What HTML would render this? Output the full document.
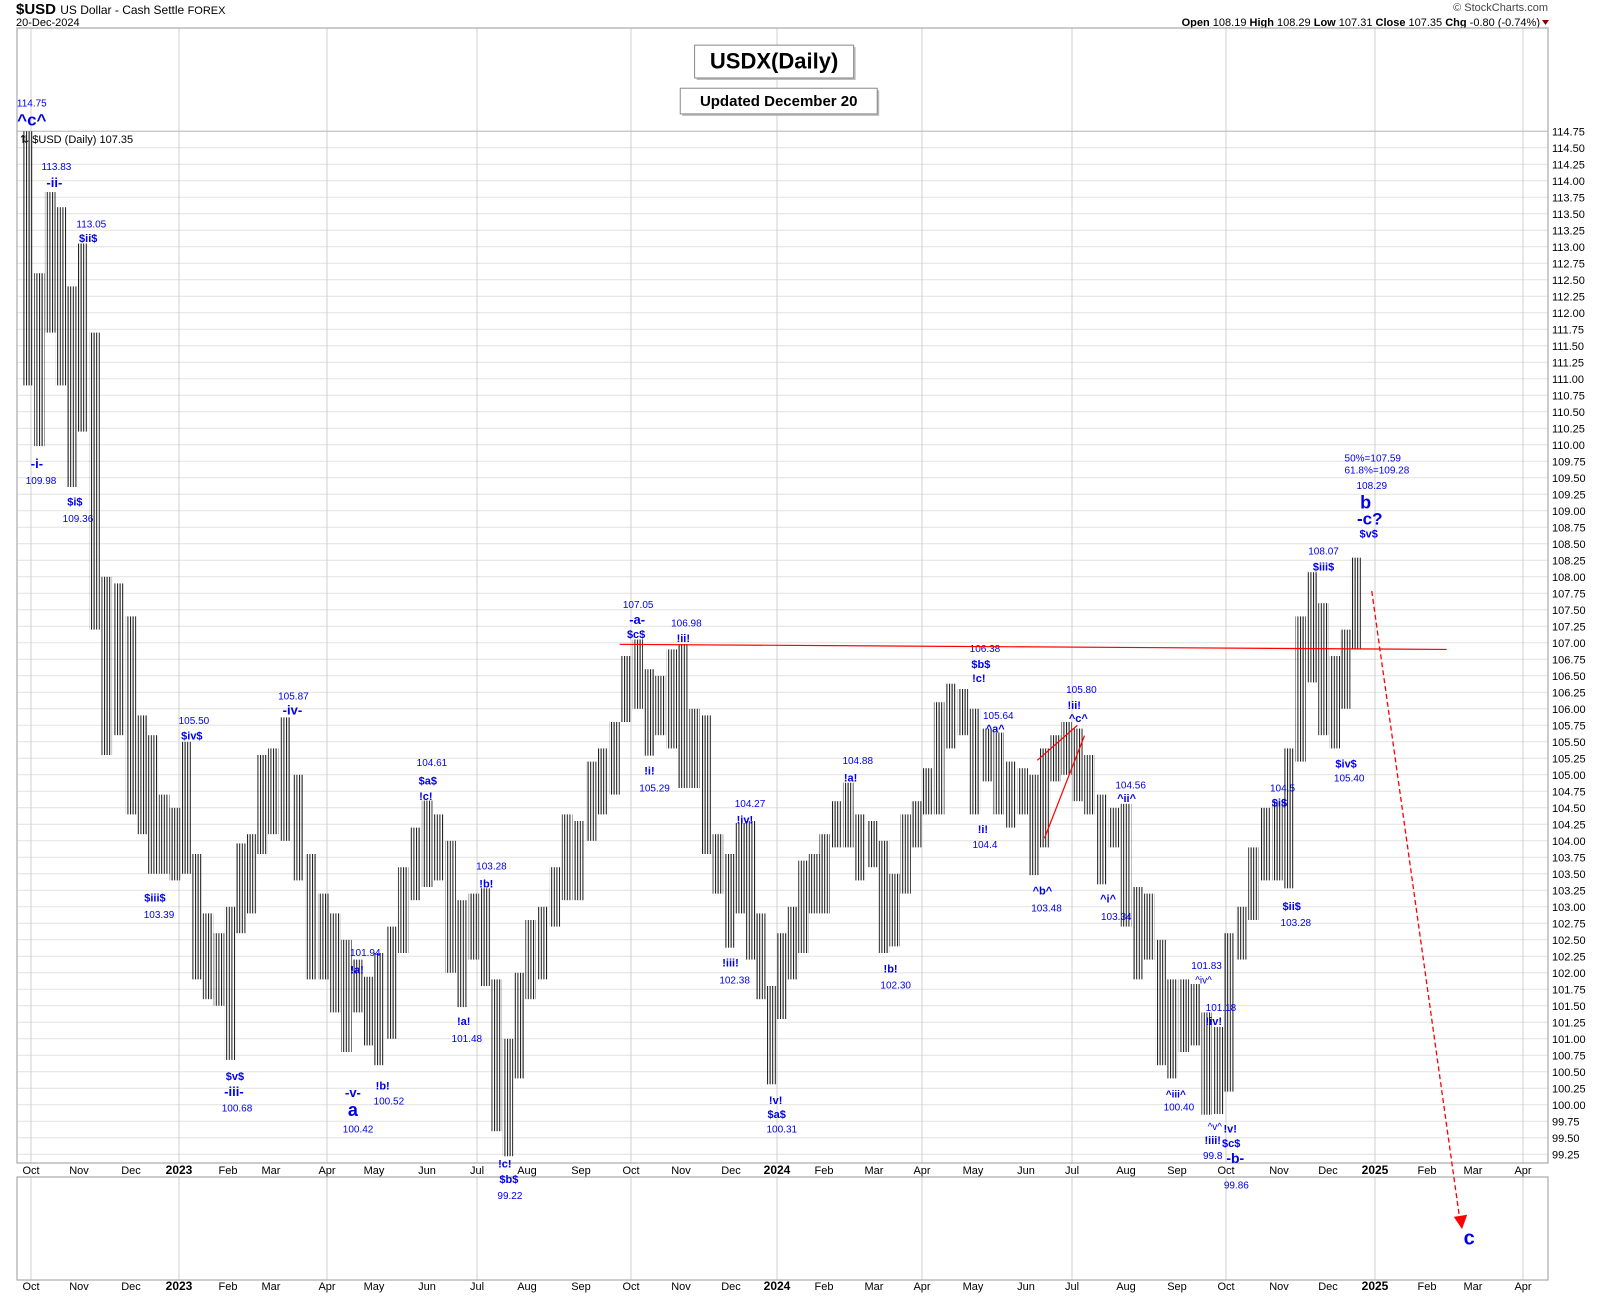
<!DOCTYPE html>
<html><head><meta charset="utf-8"><style>
body{margin:0;background:#fff;width:1600px;height:1296px;overflow:hidden;font-family:"Liberation Sans",Arial,sans-serif}
svg{position:absolute;left:0;top:0}
</style></head><body>
<svg id="chart" width="1600" height="1296" xmlns="http://www.w3.org/2000/svg">
<defs>
<pattern id="hatch" width="2.6" height="4" patternUnits="userSpaceOnUse"><rect x="0" y="0" width="1" height="4" fill="#111"/></pattern>
</defs>
<text x="16" y="14" font-size="15" font-weight="bold">$USD <tspan font-size="12" font-weight="normal">US Dollar - Cash Settle <tspan font-size="11">FOREX</tspan></tspan></text>
<text x="16" y="26" font-size="11">20-Dec-2024</text>
<text x="1548" y="11" font-size="11" fill="#444" text-anchor="end">© StockCharts.com</text>
<text x="1540" y="26" font-size="11" text-anchor="end"><tspan font-weight="bold">Open</tspan> 108.19  <tspan font-weight="bold">High</tspan> 108.29  <tspan font-weight="bold">Low</tspan> 107.31  <tspan font-weight="bold">Close</tspan> 107.35  <tspan font-weight="bold">Chg</tspan> -0.80 (-0.74%)</text>
<path d="M1542,20 L1549,20 L1545.5,25 Z" fill="#800"/>
<g id="grid"></g>
<g id="bars"></g>
<g id="anno"></g>
</svg>
<script>
const weekStarts=["2022-09-26","2022-10-03","2022-10-10","2022-10-17","2022-10-24","2022-10-31","2022-11-07","2022-11-14","2022-11-21","2022-11-28","2022-12-05","2022-12-12","2022-12-19","2022-12-26","2023-01-02","2023-01-09","2023-01-16","2023-01-23","2023-01-30","2023-02-06","2023-02-13","2023-02-20","2023-02-27","2023-03-06","2023-03-13","2023-03-20","2023-03-27","2023-04-03","2023-04-10","2023-04-17","2023-04-24","2023-05-01","2023-05-08","2023-05-15","2023-05-22","2023-05-29","2023-06-05","2023-06-12","2023-06-19","2023-06-26","2023-07-03","2023-07-10","2023-07-17","2023-07-24","2023-07-31","2023-08-07","2023-08-14","2023-08-21","2023-08-28","2023-09-04","2023-09-11","2023-09-18","2023-09-25","2023-10-02","2023-10-09","2023-10-16","2023-10-23","2023-10-30","2023-11-06","2023-11-13","2023-11-20","2023-11-27","2023-12-04","2023-12-11","2023-12-18","2023-12-25","2024-01-01","2024-01-08","2024-01-15","2024-01-22","2024-01-29","2024-02-05","2024-02-12","2024-02-19","2024-02-26","2024-03-04","2024-03-11","2024-03-18","2024-03-25","2024-04-01","2024-04-08","2024-04-15","2024-04-22","2024-04-29","2024-05-06","2024-05-13","2024-05-20","2024-05-27","2024-06-03","2024-06-10","2024-06-17","2024-06-24","2024-07-01","2024-07-08","2024-07-15","2024-07-22","2024-07-29","2024-08-05","2024-08-12","2024-08-19","2024-08-26","2024-09-02","2024-09-09","2024-09-16","2024-09-23","2024-09-30","2024-10-07","2024-10-14","2024-10-21","2024-10-28","2024-11-04","2024-11-11","2024-11-18","2024-11-25","2024-12-02","2024-12-09","2024-12-16"];
const weekHigh=[114.75,112.6,113.83,113.6,112.4,113.05,111.7,108.0,107.9,107.4,105.9,105.6,104.7,104.5,105.5,103.8,102.9,102.6,103.0,103.96,104.1,105.3,105.4,105.87,105.0,103.8,103.2,102.9,102.5,102.2,101.94,102.3,102.7,103.6,104.2,104.61,104.4,104.0,103.1,103.2,103.28,101.9,101.0,102.0,102.8,103.0,103.6,104.4,104.3,105.2,105.4,105.8,106.8,107.05,106.6,106.5,106.9,106.98,106.0,105.9,104.1,103.8,104.27,104.3,102.9,101.8,102.6,103.0,103.7,103.8,104.1,104.6,104.88,104.4,104.3,104.0,103.5,104.4,104.6,105.1,106.1,106.38,106.3,106.0,105.7,105.64,105.2,105.1,105.0,105.4,105.6,105.8,105.7,105.3,104.7,104.5,104.56,103.3,103.2,102.5,101.9,101.9,101.83,101.4,101.18,102.6,103.0,103.9,104.5,104.6,105.4,107.4,108.07,107.6,106.8,107.2,108.29];
const weekLow=[110.9,109.98,111.7,110.9,109.36,110.2,107.2,105.3,105.6,104.4,104.1,103.5,103.5,103.4,103.5,101.9,101.6,101.5,100.68,102.6,102.9,103.8,104.1,104.0,103.4,101.9,101.9,101.4,100.8,101.4,100.9,100.6,101.0,102.3,103.1,103.3,103.4,102.0,101.48,102.2,101.8,99.6,99.22,100.4,101.6,101.9,102.7,103.1,103.1,104.0,104.4,104.7,105.8,106.0,105.29,105.6,105.4,104.8,104.8,103.8,103.2,102.38,102.9,102.2,101.6,100.31,101.3,101.9,102.3,102.9,102.9,103.9,103.9,103.4,103.6,102.3,102.4,103.2,103.9,104.4,104.4,105.4,105.6,104.4,104.9,104.4,104.2,104.4,103.48,103.9,104.9,105.0,104.6,104.4,103.34,103.9,102.7,101.9,102.2,100.6,100.4,100.8,100.9,99.85,99.86,100.2,102.2,102.8,103.4,103.4,103.28,105.2,106.4,105.6,105.4,106.0,106.9];
const yTicks=[];for(let v=99.25;v<=114.76;v+=0.25)yTicks.push(+v.toFixed(2));
const monthLabels=["","Oct","Nov","Dec","2023","Feb","Mar","Apr","May","Jun","Jul","Aug","Sep","Oct","Nov","Dec","2024","Feb","Mar","Apr","May","Jun","Jul","Aug","Sep","Oct","Nov","Dec","2025","Feb","Mar","Apr"];
const monthX=[-17,31,79,131,179,228,271,327,374,427,477,527,581,631,681,731,777,824,874,922,973,1026,1072,1126,1177,1226,1279,1328,1375,1427,1473,1523,1570];
const NS="http://www.w3.org/2000/svg";
const L=17,R=1548,T=28,B=1163,LT=1177,LB=1280;
function y(p){return 131.3+(114.75-p)*66.0;}
function x(ds){const d=new Date(ds+"T00:00:00Z");const mi=(d.getUTCFullYear()-2022)*12+d.getUTCMonth()-8;const dim=new Date(Date.UTC(d.getUTCFullYear(),d.getUTCMonth()+1,0)).getUTCDate();return monthX[mi]+(d.getUTCDate()-1)/dim*(monthX[mi+1]-monthX[mi]);}
function el(tag,attrs,parent){const e=document.createElementNS(NS,tag);for(const k in attrs)e.setAttribute(k,attrs[k]);parent.appendChild(e);return e;}
const grid=document.getElementById('grid'),bars=document.getElementById('bars'),anno=document.getElementById('anno');
yTicks.forEach(v=>{
 const g=el('line',{x1:L,x2:R,y1:y(v),y2:y(v),stroke:'#e2e2e2','stroke-width':1},grid);
 
 
 const t=el('text',{x:R+4,y:y(v)+4,'font-size':11},grid);t.textContent=v.toFixed(2);
 
 
});
monthLabels.forEach((m,i)=>{
 if(!m)return;
 const xx=monthX[i];
 if(i%3===1){[[T,B],[LT,LB]].forEach(([a,b])=>{const g=el('line',{x1:xx,x2:xx,y1:a,y2:b,stroke:'#d0d0d0','stroke-width':1},grid);
 
 });}
 const yr=/^\d{4}$/.test(m);
 [1174,1290].forEach(yy=>{const t=el('text',{x:xx,y:yy,'font-size':yr?12:11,'font-weight':yr?'bold':'normal','text-anchor':'middle'},grid);t.textContent=m;
 
 });
});
[[L,T,R-L,B-T],[L,LT,R-L,LB-LT]].forEach(r=>{const b=el('rect',{x:r[0],y:r[1],width:r[2],height:r[3],fill:'none',stroke:'#aaa','stroke-width':1.2},grid);
 
 });
el('line',{x1:L,x2:R,y1:131.3,y2:131.3,stroke:'#bbb'},grid);
const lg=el('text',{x:20,y:143,'font-size':11},grid);lg.textContent='⇅ $USD (Daily) 107.35';


weekStarts.forEach((w,i)=>{
 const x0=x(w);
 const r=el('rect',{x:x0,y:y(weekHigh[i]),width:10.5,height:y(weekLow[i])-y(weekHigh[i]),fill:'url(#hatch)'},bars);
 
 
});
const S=1.026;
const notes=[
["114.75",31,101,10,0],["^c^",31,118,17,1],["113.83",55,163,10,0],["-ii-",53,179,13,1],["113.05",89,219,10,0],["$ii$",86,233,11,1],
["-i-",36,453,13,1],["109.98",40,469,10,0],["$i$",73,490,11,1],["109.36",76,506,10,0],
["105.50",189,703,10,0],["$iv$",187,718,11,1],["105.87",286,679,10,0],["-iv-",285,693,13,1],["$iii$",151,876,11,1],["103.39",155,892,10,0],
["104.61",421,744,10,0],["$a$",417,762,11,1],["!c!",415,777,11,1],["103.28",479,845,10,0],["!b!",474,862,11,1],["!a!",452,996,11,1],["101.48",455,1013,10,0],
["101.94",356,929,10,0],["!a!",348,946,11,1],["$v$",229,1050,11,1],["-iii-",228,1065,13,1],["100.68",231,1081,10,0],
["-v-",344,1066,13,1],["a",344,1083,18,1],["100.42",349,1101,10,0],["!b!",373,1059,11,1],["100.52",379,1074,10,0],
["!c!",492,1135,11,1],["$b$",496,1150,11,1],["99.22",497,1166,10,0],
["107.05",622,590,10,0],["-a-",621,605,13,1],["$c$",620,619,11,1],["106.98",669,608,10,0],["!ii!",666,623,11,1],["!i!",633,752,11,1],["105.29",638,769,10,0],
["104.27",731,784,10,0],["!iv!",726,800,11,1],["!iii!",712,939,11,1],["102.38",716,956,10,0],["!v!",756,1073,11,1],["$a$",757,1087,11,1],["100.31",762,1101,10,0],
["104.88",836,742,10,0],["!a!",829,759,11,1],["!b!",868,945,11,1],["102.30",873,961,10,0],
["106.38",960,633,10,0],["$b$",956,648,11,1],["!c!",954,662,11,1],["105.64",973,698,10,0],["^a^",970,711,11,1],["!i!",958,809,11,1],["104.4",960,824,10,0],
["^b^",1016,869,11,1],["103.48",1020,886,10,0],["105.80",1054,673,10,0],["!ii!",1047,688,11,1],["^c^",1051,701,11,1],
["104.56",1102,766,10,0],["^ii^",1098,779,11,1],["^i^",1080,877,11,1],["103.34",1088,894,10,0],
["101.83",1176,942,10,0],["^iv^",1173,956,10,0],["101.18",1190,983,10,0],["!iv!",1183,996,11,1],["^iii^",1146,1067,10,1],["100.40",1149,1080,10,0],
["^v^",1184,1099,10,0],["!iii!",1182,1112,11,1],["99.8",1182,1127,10,0],["!v!",1199,1101,11,1],["$c$",1200,1115,11,1],["-b-",1204,1130,14,1],["99.86",1205,1156,10,0],
["104.5",1250,769,10,0],["$i$",1247,783,11,1],["$ii$",1259,884,11,1],["103.28",1263,900,10,0],
["108.07",1290,538,10,0],["$iii$",1290,553,11,1],["$iv$",1312,745,11,1],["105.40",1315,759,10,0],
["50%=107.59",1338,447,10,0],["61.8%=109.28",1342,459,10,0],["108.29",1337,474,10,0],["b",1331,491,18,1],["-c?",1335,507,17,1],["$v$",1334,521,11,1],
["c",1432,1208,20,1]];
notes.forEach(n=>{
 const t=el('text',{x:n[1]*S,y:n[2]*S,'font-size':n[3],'font-weight':n[4]?'bold':'normal',fill:'#0000ee','text-anchor':'middle','dominant-baseline':'middle'},anno);
 t.textContent=n[0];
 
 
});
const lines=[[604,628,1410,633],[1011,741,1050,707],[1018,817,1057,717]];
lines.forEach(l=>{const e=el('line',{x1:l[0]*S,y1:l[1]*S,x2:l[2]*S,y2:l[3]*S,stroke:'#f00','stroke-width':1.2},anno);
 
 });
const ar=el('line',{x1:1337*S,y1:576*S,x2:1423*S,y2:1190*S,stroke:'#f00','stroke-width':1.3,'stroke-dasharray':'5,3'},anno);


const ah=el('path',{d:`M${1417*S},${1186*S} L${1430*S},${1184*S} L${1425*S},${1198*S} Z`,fill:'#f00'},anno);


[[677,44,155,32,'USDX(Daily)',22],[663,86,192,25,'Updated December 20',15]].forEach(b=>{
 el('rect',{x:b[0]*S+2,y:b[1]*S+2,width:b[2]*S,height:b[3]*S,fill:'#bbb'},anno);
 const r=el('rect',{x:b[0]*S,y:b[1]*S,width:b[2]*S,height:b[3]*S,fill:'#fff',stroke:'#888'},anno);
 
 
 const t=el('text',{x:(b[0]+b[2]/2)*S,y:(b[1]+b[3]/2)*S+1,'font-size':b[5],'font-weight':'bold','text-anchor':'middle','dominant-baseline':'middle'},anno);
 t.textContent=b[4];
 
 
});
</script>
</body></html>
